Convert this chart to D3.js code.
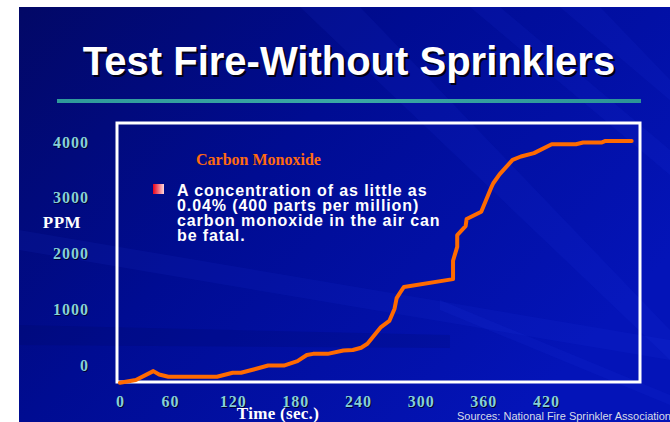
<!DOCTYPE html>
<html>
<head>
<meta charset="utf-8">
<script src="https://cdn.jsdelivr.net/npm/d3@7"></script>
<style>
  body { margin: 0; background: #fff; }
  svg { display: block; }
</style>
</head>
<body>
<div id="chart"></div>
<script>
// values (seconds, ppm)
const timeSec = [0, 19, 40, 47, 58, 105, 120, 128, 154, 169, 182, 191, 197, 211, 226, 235, 243, 249,
  262, 270, 275, 277, 280, 284, 331, 331, 335, 335, 343, 344, 358, 368, 369.5, 375.5, 388, 396,
  408.5, 425.5, 448.7, 455.6, 473, 477, 502];
const ppm = [-320, -270, -110, -170, -210, -210, -140, -140, -10, -10, 70, 180, 200, 200, 260, 270, 310, 380,
  680, 790, 1010, 1200, 1290, 1400, 1540, 1870, 2120, 2330, 2490, 2620, 2750, 3200, 3260, 3420, 3680, 3740,
  3800, 3960, 3960, 3990, 3990, 4020, 4020];
const xTicks = [0, 60, 120, 180, 240, 300, 360, 420];
const yTicks = [0, 1000, 2000, 3000, 4000];
const bulletLines = ["A concentration of as little as", "0.04% (400 parts per million)",
  "carbon monoxide  in the air can", "be fatal."];

const W = 670, H = 422;
const svg = d3.select("#chart").append("svg")
  .attr("width", W)
  .attr("height", H);

const defs = svg.append("defs");
const bg = defs.append("linearGradient").attr("id", "bg")
  .attr("x1", 0).attr("y1", 0).attr("x2", 1).attr("y2", 0.6);
bg.append("stop").attr("offset", "0%").attr("stop-color", "#020866");
bg.append("stop").attr("offset", "45%").attr("stop-color", "#000c92");
bg.append("stop").attr("offset", "100%").attr("stop-color", "#0414b8");

const bul = defs.append("linearGradient").attr("id", "bul");
bul.append("stop").attr("offset", "0%").attr("stop-color", "#e8001a");
bul.append("stop").attr("offset", "100%").attr("stop-color", "#ffd8dc");

const teal = defs.append("linearGradient").attr("id", "teal");
teal.append("stop").attr("offset", "0%").attr("stop-color", "#2f9a9a");
teal.append("stop").attr("offset", "50%").attr("stop-color", "#3aa8a4");
teal.append("stop").attr("offset", "100%").attr("stop-color", "#2c9496");

// slide background
svg.append("rect")
  .attr("x", 19).attr("y", 7)
  .attr("width", W - 19).attr("height", H - 7)
  .attr("fill", "url(#bg)");

// faint light rays
const rays = [
  [[300, 7], [360, 7], [670, 330], [670, 360]],
  [[470, 7], [500, 7], [670, 150], [670, 175]],
  [[560, 7], [600, 7], [670, 80], [670, 100]],
  [[19, 230], [19, 250], [670, 360], [670, 340]],
  [[440, 300], [670, 395], [670, 405], [440, 310]]
];
svg.append("g")
  .selectAll("path")
  .data(rays)
  .join("path")
  .attr("d", d => "M" + d.join("L") + "Z")
  .attr("fill", "#3050ff")
  .attr("opacity", 0.08);
svg.append("path")
  .attr("d", "M19,325L450,335L450,348L19,345Z")
  .attr("fill", "#000650").attr("opacity", 0.15);

// title
svg.append("text")
  .attr("x", 349).attr("y", 75)
  .attr("text-anchor", "middle")
  .style("font", "bold 40px 'Liberation Sans', Arial, sans-serif")
  .style("text-shadow", "2px 2px 0 #000018")
  .attr("fill", "#ffffff")
  .text("Test Fire-Without Sprinklers");

svg.append("rect")
  .attr("x", 57).attr("y", 99)
  .attr("width", 584).attr("height", 4)
  .attr("fill", "url(#teal)");

// scales
const x = d3.scaleLinear()
  .domain([0, 60, 420])
  .range([120, 170, 546]);
const y = d3.scaleLinear()
  .domain([0, 4000])
  .range([365, 142]);

// plot frame
svg.append("rect")
  .attr("x", 117).attr("y", 123)
  .attr("width", 523).attr("height", 259)
  .attr("fill", "none")
  .attr("stroke", "#ffffff")
  .attr("stroke-width", 3);

// axes
const serif = "'Liberation Serif', 'Times New Roman', serif";
const yAxis = svg.append("g")
  .attr("transform", "translate(89,0)")
  .call(d3.axisLeft(y).tickValues(yTicks).tickSize(0).tickPadding(0).tickFormat(d3.format("d")));
const xAxis = svg.append("g")
  .attr("transform", "translate(0,396)")
  .call(d3.axisBottom(x).tickValues(xTicks).tickSize(0).tickPadding(0).tickFormat(d3.format("d")));
[xAxis, yAxis].forEach(a => {
  a.select(".domain").remove();
  a.selectAll("text")
    .style("font", `bold 16px ${serif}`)
    .style("letter-spacing", "1px")
    .attr("fill", "#86d0d8")
    .style("text-shadow", "1px 1px 0 #000030");
});

svg.append("text")
  .attr("x", 62).attr("y", 228)
  .attr("text-anchor", "middle")
  .style("font", `bold 17px ${serif}`)
  .style("letter-spacing", "0.5px")
  .attr("fill", "#ffffff")
  .text("PPM");

svg.append("text")
  .attr("x", 278).attr("y", 419)
  .attr("text-anchor", "middle")
  .style("font", `bold 17px ${serif}`)
  .style("letter-spacing", "0.3px")
  .attr("fill", "#ffffff")
  .text("Time (sec.)");

svg.append("text")
  .attr("x", 457).attr("y", 420)
  .style("font", "11px 'Liberation Sans', Arial, sans-serif")
  .attr("fill", "#d8dce8")
  .text("Sources: National Fire Sprinkler Association");

// legend-ish text
svg.append("text")
  .attr("x", 196).attr("y", 165)
  .style("font", `bold 16px ${serif}`)
  .attr("fill", "#ff6a10")
  .text("Carbon Monoxide");

svg.append("rect")
  .attr("x", 153).attr("y", 184)
  .attr("width", 11).attr("height", 10)
  .attr("fill", "url(#bul)");

svg.append("text")
  .attr("x", 177)
  .style("font", "bold 16px 'Liberation Sans', Arial, sans-serif")
  .style("letter-spacing", "0.9px")
  .attr("fill", "#ffffff")
  .selectAll("tspan")
  .data(bulletLines)
  .join("tspan")
  .attr("x", 177)
  .attr("y", (d, i) => 196 + i * 15)
  .text(d => d);

// CO line
const line = d3.line()
  .x(d => x(d[0]))
  .y(d => y(d[1]));
svg.append("path")
  .datum(d3.zip(timeSec, ppm))
  .attr("d", line)
  .attr("fill", "none")
  .attr("stroke", "#ff6a00")
  .attr("stroke-width", 4)
  .attr("stroke-linejoin", "round")
  .attr("stroke-linecap", "round");
</script>
</body>
</html>
